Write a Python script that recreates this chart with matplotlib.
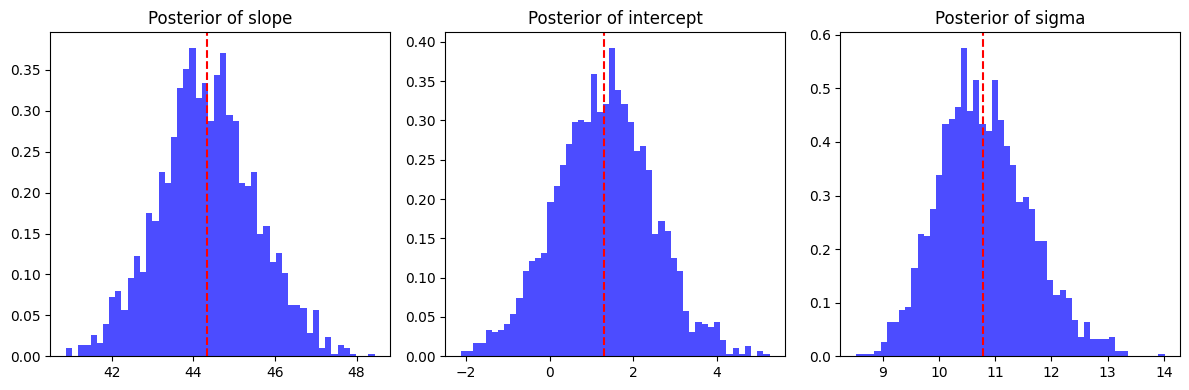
import numpy as np
import matplotlib
matplotlib.use("Agg")
import matplotlib.pyplot as plt

# ---- data (density histogram heights, 50 bins each) ----
slope_range = (40.88, 48.44)
slope_density = [0.0098, 0.0, 0.0135, 0.0135, 0.0257, 0.016, 0.039, 0.072, 0.080, 0.056,
                 0.0955, 0.122, 0.103, 0.175, 0.165, 0.225, 0.212, 0.268, 0.328, 0.351,
                 0.377, 0.315, 0.334, 0.288, 0.344, 0.371, 0.295, 0.288, 0.212, 0.2086,
                 0.225, 0.150, 0.159, 0.115, 0.126, 0.102, 0.0624, 0.0624, 0.059, 0.029,
                 0.056, 0.0098, 0.023, 0.0033, 0.0135, 0.0098, 0.0033, 0.0, 0.0, 0.0033]
slope_mean = 44.33

intercept_range = (-2.12, 5.26)
intercept_density = [0.0064, 0.0064, 0.0166, 0.0166, 0.0331, 0.0306, 0.0331, 0.0408, 0.0535, 0.0739,
                     0.1083, 0.121, 0.125, 0.131, 0.196, 0.2167, 0.243, 0.270, 0.298, 0.301,
                     0.298, 0.359, 0.311, 0.321, 0.3925, 0.339, 0.321, 0.298, 0.261, 0.2676,
                     0.237, 0.156, 0.172, 0.159, 0.125, 0.108, 0.0573, 0.0306, 0.0433, 0.0408,
                     0.037, 0.0433, 0.0204, 0.0034, 0.0102, 0.0034, 0.0127, 0.0, 0.0064, 0.0034]
intercept_mean = 1.31

sigma_range = (8.526, 14.01)
sigma_density = [0.0037, 0.0037, 0.0037, 0.0093, 0.026, 0.0636, 0.0636, 0.086, 0.0916, 0.1645,
                 0.228, 0.224, 0.275, 0.338, 0.4336, 0.443, 0.465, 0.5757, 0.458, 0.516,
                 0.4336, 0.4206, 0.516, 0.44, 0.3925, 0.357, 0.288, 0.297, 0.275, 0.215,
                 0.215, 0.142, 0.114, 0.123, 0.108, 0.067, 0.0355, 0.0636, 0.0318, 0.0318,
                 0.0318, 0.0355, 0.0093, 0.0093, 0.0, 0.0, 0.0, 0.0, 0.0, 0.0037]
sigma_mean = 10.79

titles = ["Posterior of slope", "Posterior of intercept", "Posterior of sigma"]
panels = [(slope_range, slope_density, slope_mean),
          (intercept_range, intercept_density, intercept_mean),
          (sigma_range, sigma_density, sigma_mean)]

fig, axes = plt.subplots(1, 3, figsize=(12, 4), dpi=100)
for ax, title, (rng, dens, mean) in zip(axes, titles, panels):
    edges = np.linspace(rng[0], rng[1], len(dens) + 1)
    ax.hist(edges[:-1], bins=edges, weights=dens, color="blue", alpha=0.7)
    ax.axvline(mean, color="red", linestyle="--")
    ax.set_title(title)

plt.tight_layout()
fig.savefig("out.png", dpi=100, bbox_inches="tight")
